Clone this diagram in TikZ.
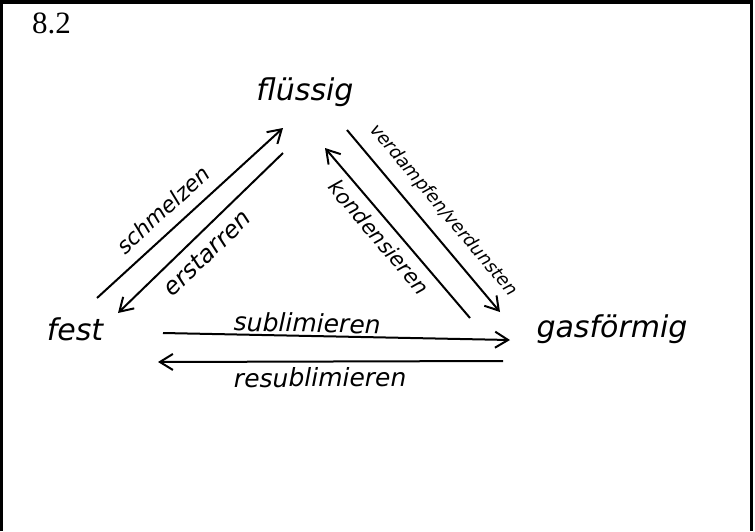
\documentclass[tikz,border=0pt]{standalone}
\usepackage{fontspec}
\setmainfont{Liberation Serif}
\newfontfamily\handfont{DejaVu Sans}
\usetikzlibrary{arrows.meta}

\begin{document}
\begin{tikzpicture}[
  x=1pt,y=-1pt,
  state/.style={font=\handfont\itshape\fontsize{30}{36}\selectfont,anchor=base,inner sep=0pt},
  proc/.style={font=\handfont\itshape\fontsize{#1}{26}\selectfont,sloped},
  proc/.default=22,
  arrow/.style={-{Straight Barb[length=13pt,width=16pt]},line width=2pt},
  backarrow/.style={{Straight Barb[length=13pt,width=16pt]}-,line width=2pt}
]
\useasboundingbox (0,0) rectangle (755,531);
\draw[line width=3.5pt] (1.5,531) -- (1.5,1.75) -- (751.5,1.75) -- (751.5,531);
\node[anchor=base west,inner sep=0pt,font=\fontsize{31}{36}\selectfont] (num) at (32,33) {8.2};

\node[state] (liquid) at (305,100) {flüssig};
\node[state] (solid) at (75,340) {fest};
\node[state] (gas) at (612,337) {gasförmig};

% ends of the arrows
\coordinate (meltA) at (97,298);
\coordinate (meltB) at (283,128);
\coordinate (frzA) at (118,313);
\coordinate (frzB) at (283,153);
\coordinate (vapA) at (347,130);
\coordinate (vapB) at (500,312);
\coordinate (condA) at (325,148);
\coordinate (condB) at (470,318);
\coordinate (subA) at (163,333);
\coordinate (subB) at (510,340);
\coordinate (resA) at (158,362);
\coordinate (resB) at (503,361);

\draw[arrow] (meltA) -- node[proc,pos=0.43,above=8pt] (melt) {schmelzen} (meltB);
\draw[backarrow] (frzA) -- node[proc=24,pos=0.46,below=6pt] (frz) {erstarren} (frzB);
\draw[arrow] (vapA) -- node[proc=18,pos=0.52,above=9pt] (vap) {verdampfen/verdunsten} (vapB);
\draw[backarrow] (condA) -- node[proc=21,pos=0.46,below=4pt] (cond) {kondensieren} (condB);
\draw[arrow] (subA) -- node[proc=25,pos=0.415,above=-1pt] (sub) {sublimieren} (subB);
\draw[backarrow] (resA) -- node[proc=25,pos=0.47,below=2pt] (resub) {resublimieren} (resB);
\end{tikzpicture}
\end{document}
